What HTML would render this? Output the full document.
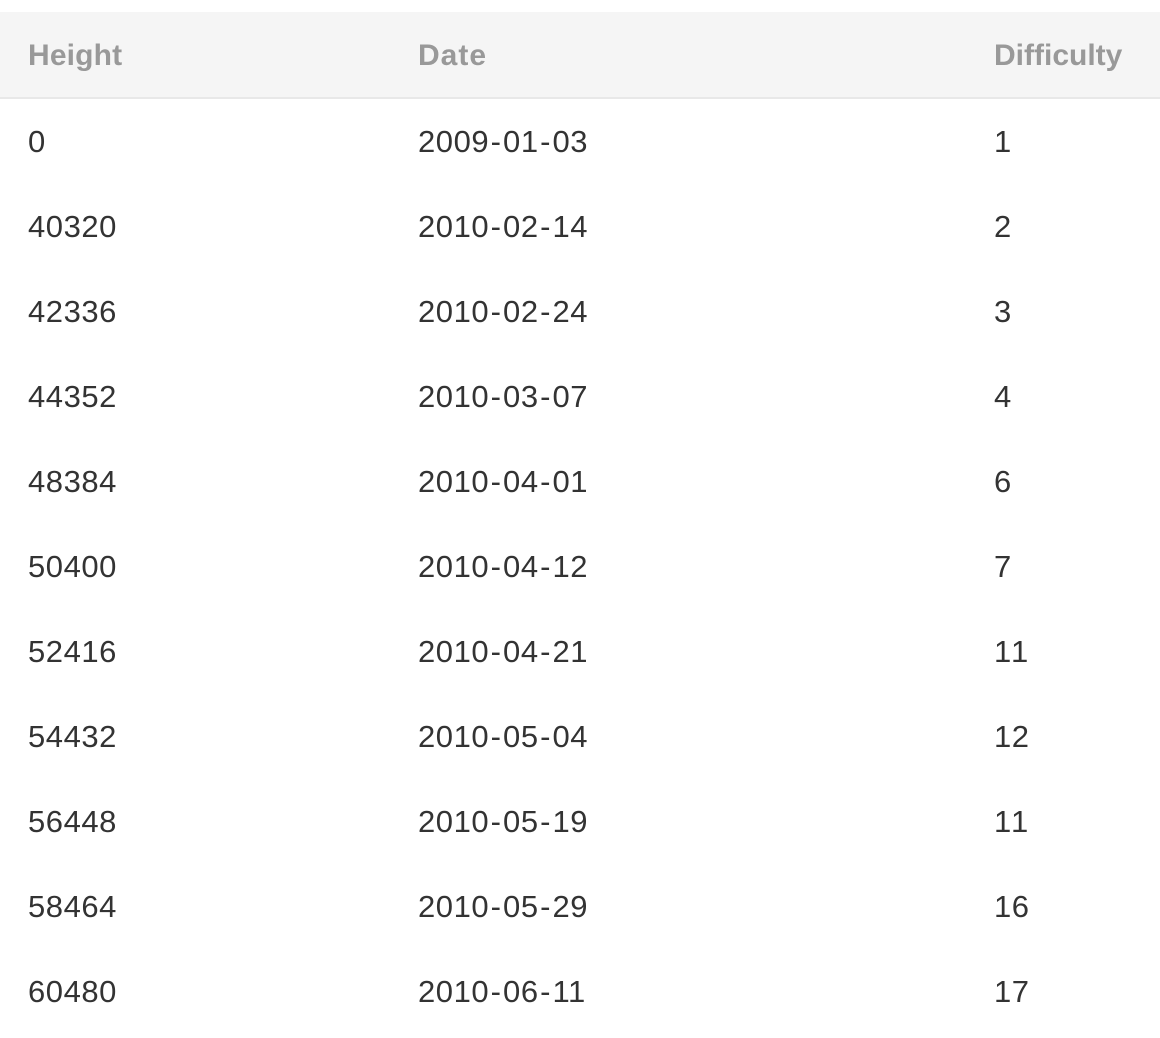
<!DOCTYPE html>
<html lang="en">
<head>
<meta charset="utf-8">
<title>Difficulty table</title>
<style>
html,body{margin:0;padding:0;background:#fff;width:1160px;height:1038px;overflow:hidden}
body{font-family:"Liberation Sans",sans-serif;position:relative}
table{position:absolute;left:0;top:12px;width:1160px;border-collapse:separate;border-spacing:0;table-layout:fixed}
th,td{padding:0;text-align:left;white-space:nowrap;vertical-align:middle}
thead tr{height:87px}
th{height:87px;background:#f5f5f5;border-bottom:2px solid #e8e8e8;color:#999;font-size:30px;font-weight:bold;box-sizing:border-box;padding-top:3px}
tbody tr{height:85px}
td{height:85px;color:#333;font-size:31px;letter-spacing:.55px}
.c1{padding-left:28px;box-sizing:border-box}
th.c2{letter-spacing:1px}
th.c3{letter-spacing:0}
th.c1{letter-spacing:.15px}
.h{margin:0 1.5px}
.w{letter-spacing:2px}
</style>
</head>
<body>
<table>
<colgroup><col style="width:418px"><col style="width:576px"><col style="width:166px"></colgroup>
<thead>
<tr>
<th class="c1">Height</th>
<th class="c2">Date</th>
<th class="c3">Difficulty</th>
</tr>
</thead>
<tbody>
<tr><td class="c1">0</td><td class="c2">2009<span class="h">-</span>01<span class="h">-</span>03</td><td class="c3">1</td></tr>
<tr><td class="c1">40320</td><td class="c2">2010<span class="h">-</span>02<span class="h">-</span>14</td><td class="c3">2</td></tr>
<tr><td class="c1">42336</td><td class="c2">2010<span class="h">-</span>02<span class="h">-</span>24</td><td class="c3">3</td></tr>
<tr><td class="c1">44352</td><td class="c2">2010<span class="h">-</span>03<span class="h">-</span>07</td><td class="c3">4</td></tr>
<tr><td class="c1">48384</td><td class="c2">2010<span class="h">-</span>04<span class="h">-</span>01</td><td class="c3">6</td></tr>
<tr><td class="c1">50400</td><td class="c2">2010<span class="h">-</span>04<span class="h">-</span>12</td><td class="c3">7</td></tr>
<tr><td class="c1">52416</td><td class="c2">2010<span class="h">-</span>04<span class="h">-</span>21</td><td class="c3 w">11</td></tr>
<tr><td class="c1">54432</td><td class="c2">2010<span class="h">-</span>05<span class="h">-</span>04</td><td class="c3">12</td></tr>
<tr><td class="c1">56448</td><td class="c2">2010<span class="h">-</span>05<span class="h">-</span>19</td><td class="c3 w">11</td></tr>
<tr><td class="c1">58464</td><td class="c2">2010<span class="h">-</span>05<span class="h">-</span>29</td><td class="c3">16</td></tr>
<tr><td class="c1">60480</td><td class="c2">2010<span class="h">-</span>06<span class="h">-</span>11</td><td class="c3">17</td></tr>
</tbody>
</table>
</body>
</html>
